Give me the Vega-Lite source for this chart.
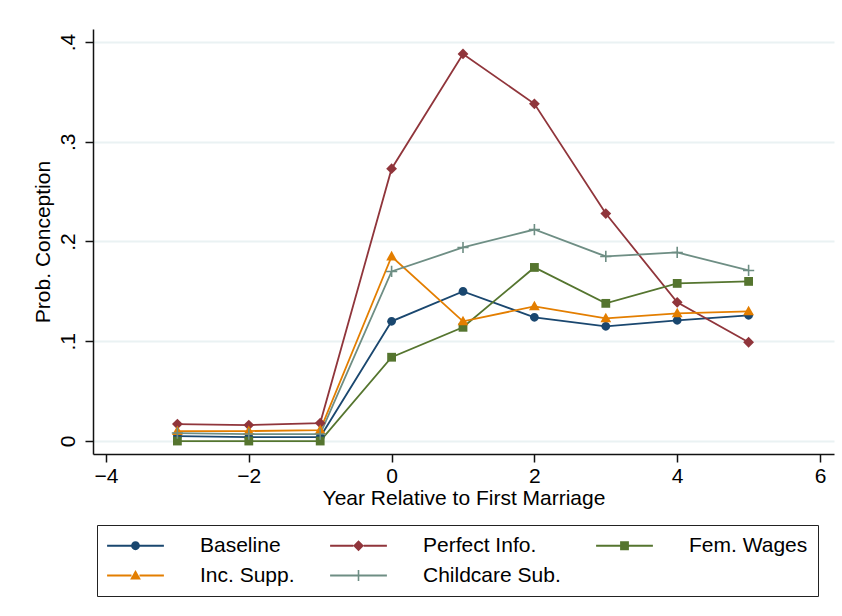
{
  "$schema": "https://vega.github.io/schema/vega-lite/v6.json",
  "width": 741,
  "height": 425,
  "autosize": "none",
  "padding": {"left": 93, "top": 29, "right": 8, "bottom": 162},
  "background": "white",
  "config": {
    "view": {"stroke": null},
    "font": "Liberation Sans",
    "axis": {
      "labelFont": "Liberation Sans",
      "titleFont": "Liberation Sans",
      "labelFontSize": 21,
      "titleFontSize": 21,
      "titleFontWeight": "normal",
      "labelColor": "#000",
      "titleColor": "#000",
      "domainColor": "#111",
      "tickColor": "#111",
      "domainWidth": 1.5,
      "tickWidth": 1.5,
      "tickSize": 8
    },
    "legend": {"labelFont": "Liberation Sans"}
  },
  "datasets": {
    "series": [
      {"t": -3, "s": "Baseline", "p": 0.005},
      {"t": -2, "s": "Baseline", "p": 0.004},
      {"t": -1, "s": "Baseline", "p": 0.004},
      {"t": 0, "s": "Baseline", "p": 0.120},
      {"t": 1, "s": "Baseline", "p": 0.150},
      {"t": 2, "s": "Baseline", "p": 0.124},
      {"t": 3, "s": "Baseline", "p": 0.115},
      {"t": 4, "s": "Baseline", "p": 0.121},
      {"t": 5, "s": "Baseline", "p": 0.126},
      {"t": -3, "s": "Perfect Info.", "p": 0.017},
      {"t": -2, "s": "Perfect Info.", "p": 0.016},
      {"t": -1, "s": "Perfect Info.", "p": 0.018},
      {"t": 0, "s": "Perfect Info.", "p": 0.273},
      {"t": 1, "s": "Perfect Info.", "p": 0.388},
      {"t": 2, "s": "Perfect Info.", "p": 0.338},
      {"t": 3, "s": "Perfect Info.", "p": 0.228},
      {"t": 4, "s": "Perfect Info.", "p": 0.139},
      {"t": 5, "s": "Perfect Info.", "p": 0.099},
      {"t": -3, "s": "Fem. Wages", "p": 0.0},
      {"t": -2, "s": "Fem. Wages", "p": 0.0},
      {"t": -1, "s": "Fem. Wages", "p": 0.0},
      {"t": 0, "s": "Fem. Wages", "p": 0.084},
      {"t": 1, "s": "Fem. Wages", "p": 0.114},
      {"t": 2, "s": "Fem. Wages", "p": 0.174},
      {"t": 3, "s": "Fem. Wages", "p": 0.138},
      {"t": 4, "s": "Fem. Wages", "p": 0.158},
      {"t": 5, "s": "Fem. Wages", "p": 0.160},
      {"t": -3, "s": "Inc. Supp.", "p": 0.010},
      {"t": -2, "s": "Inc. Supp.", "p": 0.010},
      {"t": -1, "s": "Inc. Supp.", "p": 0.011},
      {"t": 0, "s": "Inc. Supp.", "p": 0.185},
      {"t": 1, "s": "Inc. Supp.", "p": 0.120},
      {"t": 2, "s": "Inc. Supp.", "p": 0.135},
      {"t": 3, "s": "Inc. Supp.", "p": 0.123},
      {"t": 4, "s": "Inc. Supp.", "p": 0.128},
      {"t": 5, "s": "Inc. Supp.", "p": 0.130},
      {"t": -3, "s": "Childcare Sub.", "p": 0.008},
      {"t": -2, "s": "Childcare Sub.", "p": 0.007},
      {"t": -1, "s": "Childcare Sub.", "p": 0.007},
      {"t": 0, "s": "Childcare Sub.", "p": 0.170},
      {"t": 1, "s": "Childcare Sub.", "p": 0.194},
      {"t": 2, "s": "Childcare Sub.", "p": 0.212},
      {"t": 3, "s": "Childcare Sub.", "p": 0.185},
      {"t": 4, "s": "Childcare Sub.", "p": 0.189},
      {"t": 5, "s": "Childcare Sub.", "p": 0.171}
    ],
    "keys": [
      {"s": "Baseline", "t": 100, "p": 0},
      {"s": "Perfect Info.", "t": 100, "p": 0},
      {"s": "Fem. Wages", "t": 100, "p": 0},
      {"s": "Inc. Supp.", "t": 100, "p": 0},
      {"s": "Childcare Sub.", "t": 100, "p": 0}
    ]
  },
  "resolve": {"scale": {"color": "independent", "shape": "independent"}},
  "layer": [
    {
      "mark": {"type": "rule", "color": "#c8143c", "strokeWidth": 1.7, "strokeDash": [12, 6], "strokeDashOffset": 11},
      "encoding": {
        "x": {"datum": 0, "type": "quantitative"}
      }
    },
    {
      "data": {"name": "series"},
      "mark": {"type": "line", "strokeWidth": 1.8},
      "encoding": {
        "x": {
          "field": "t", "type": "quantitative",
          "scale": {"domain": [-4.182, 6.196], "nice": false, "zero": false},
          "axis": {"title": "Year Relative to First Marriage", "values": [-4, -2, 0, 2, 4, 6], "format": "d", "grid": false, "labelPadding": 3, "titlePadding": 1, "labelFlush": false}
        },
        "y": {
          "field": "p", "type": "quantitative",
          "scale": {"domain": [-0.013, 0.413], "nice": false, "zero": false},
          "axis": {"title": "Prob. Conception", "values": [0, 0.1, 0.2, 0.3, 0.4], "grid": true, "gridColor": "#eaf2f3", "gridWidth": 2, "labelAngle": -90, "labelPadding": 7, "titlePadding": 4, "labelFlush": false,
            "labelExpr": "datum.value == 0 ? '0' : replace(format(datum.value, '.1f'), '0.', '.')"}
        },
        "color": {
          "field": "s", "type": "nominal",
          "scale": {"domain": ["Baseline", "Perfect Info.", "Fem. Wages", "Inc. Supp.", "Childcare Sub."], "range": ["#1a476f", "#90353b", "#55752f", "#e37e00", "#6e8e84"]},
          "legend": null
        }
      }
    },
    {
      "data": {"name": "series"},
      "mark": {"type": "point", "filled": true, "size": 64, "opacity": 1},
      "encoding": {
        "x": {"field": "t", "type": "quantitative"},
        "y": {"field": "p", "type": "quantitative"},
        "color": {
          "field": "s", "type": "nominal",
          "scale": {"domain": ["Baseline", "Perfect Info.", "Fem. Wages", "Inc. Supp.", "Childcare Sub."], "range": ["#1a476f", "#90353b", "#55752f", "#e37e00", "#6e8e84"]},
          "legend": null
        },
        "shape": {
          "field": "s", "type": "nominal",
          "scale": {"domain": ["Baseline", "Perfect Info.", "Fem. Wages", "Inc. Supp.", "Childcare Sub."],
            "range": [
              "M-1.1,0A1.1,1.1,0,1,1,1.1,0A1.1,1.1,0,1,1,-1.1,0Z",
              "M0,-1.35L1.35,0L0,1.35L-1.35,0Z",
              "M-1.1,-1.1H1.1V1.1H-1.1Z",
              "M0,-1.4L1.35,1H-1.35Z",
              "M-1.4,-0.2H-0.2V-1.4H0.2V-0.2H1.4V0.2H0.2V1.4H-0.2V0.2H-1.4Z"
            ]},
          "legend": null
        }
      }
    },
    {
      "data": {"name": "keys"},
      "mark": {"type": "point", "filled": true, "size": 64, "opacity": 1, "clip": true},
      "encoding": {
        "x": {"field": "t", "type": "quantitative"},
        "y": {"field": "p", "type": "quantitative"},
        "color": {
          "field": "s", "type": "nominal",
          "scale": {"domain": ["Baseline", "Perfect Info.", "Fem. Wages", "Inc. Supp.", "Childcare Sub."], "range": ["#1a476f", "#90353b", "#55752f", "#e37e00", "#6e8e84"]},
          "legend": {"title": null, "orient": "none", "legendX": 4, "legendY": 496, "columns": 3, "direction": "horizontal", "symbolSize": 64, "symbolOffset": 18, "labelOffset": 54, "labelFontSize": 21, "labelColor": "#000", "columnPadding": 35, "rowPadding": 8, "padding": 10, "strokeColor": "#222", "labelLimit": 400,
            "encode": {"legend": {"update": {"strokeWidth": {"value": 1.5}}}}}
        },
        "shape": {
          "field": "s", "type": "nominal",
          "scale": {"domain": ["Baseline", "Perfect Info.", "Fem. Wages", "Inc. Supp.", "Childcare Sub."],
            "range": [
              "M-7.1,-0.22H-1.05V0.22H-7.1Z M1.05,-0.22H7.1V0.22H1.05Z M-1.1,0A1.1,1.1,0,1,1,1.1,0A1.1,1.1,0,1,1,-1.1,0Z",
              "M-7.1,-0.22H-1.3V0.22H-7.1Z M1.3,-0.22H7.1V0.22H1.3Z M0,-1.35L1.35,0L0,1.35L-1.35,0Z",
              "M-7.1,-0.22H-1.1V0.22H-7.1Z M1.1,-0.22H7.1V0.22H1.1Z M-1.1,-1.1H1.1V1.1H-1.1Z",
              "M-7.1,-0.22H-1V0.22H-7.1Z M1,-0.22H7.1V0.22H1Z M0,-1.4L1.35,1H-1.35Z",
              "M-7.1,-0.22H7.1V0.22H-7.1Z M-0.2,-1.4H0.2V1.4H-0.2Z"
            ]},
          "legend": {"title": null, "orient": "none", "legendX": 4, "legendY": 496, "columns": 3, "direction": "horizontal", "symbolSize": 64, "symbolOffset": 18, "labelOffset": 54, "labelFontSize": 21, "labelColor": "#000", "columnPadding": 35, "rowPadding": 8, "padding": 10, "strokeColor": "#222", "labelLimit": 400}
        }
      }
    }
  ]
}
